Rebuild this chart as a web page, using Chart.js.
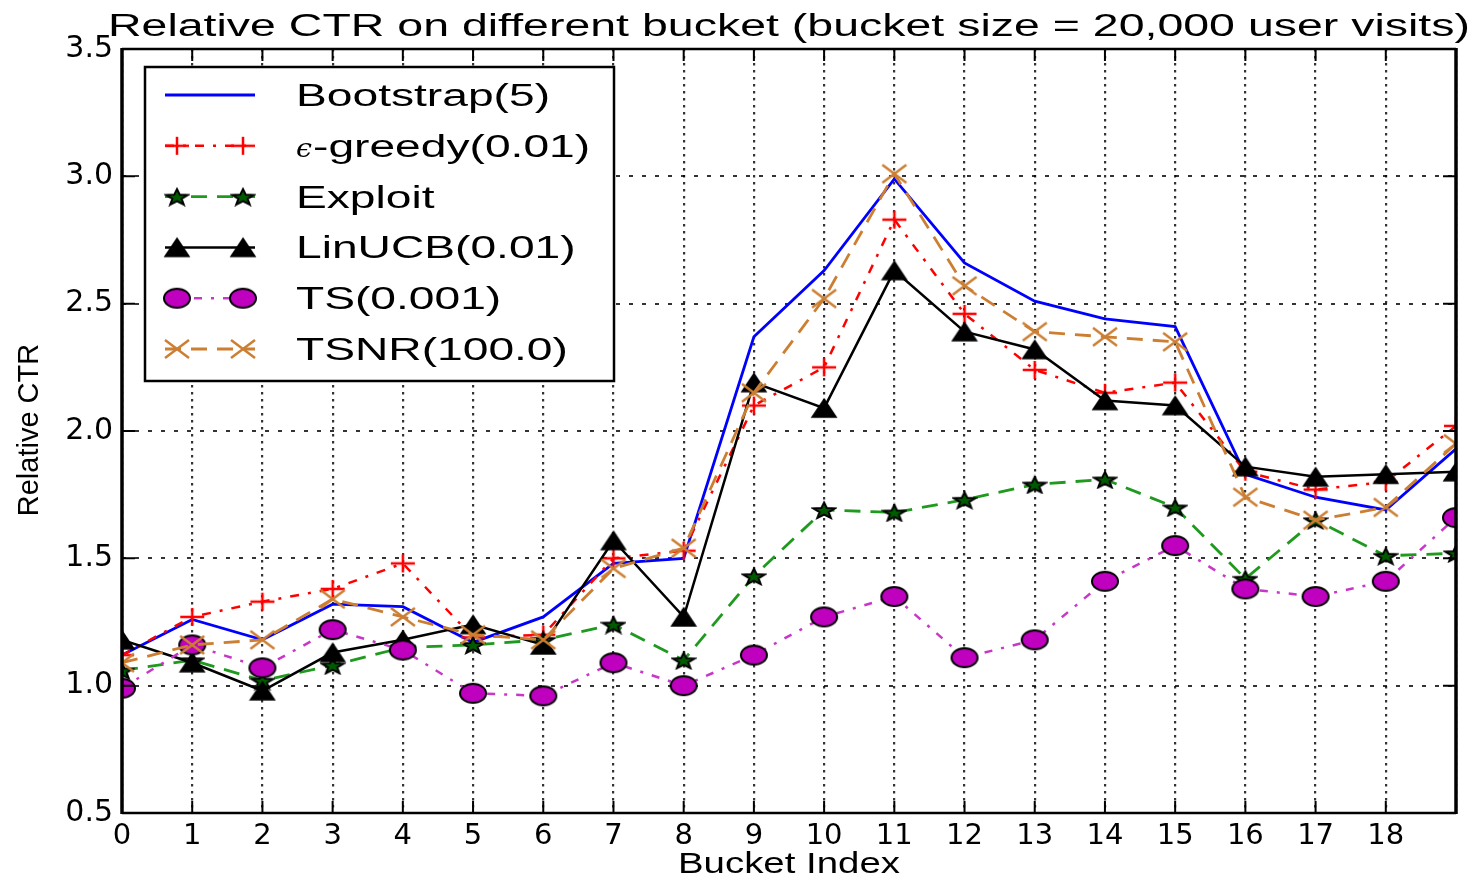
<!DOCTYPE html>
<html>
<head>
<meta charset="utf-8">
<script src="https://cdn.jsdelivr.net/npm/chart.js@4.4.0/dist/chart.umd.min.js"></script>
<style>
html,body{margin:0;padding:0;background:#fff;}
#wrap{width:1480px;height:878px;}
canvas{display:block;}
</style>
</head>
<body>
<div id="wrap"><canvas id="c" width="1480" height="878"></canvas></div>
<script>
// ---------------- data ----------------
const buckets = [0,1,2,3,4,5,6,7,8,9,10,11,12,13,14,15,16,17,18,19];
const xTickLabels = ['0','1','2','3','4','5','6','7','8','9','10','11','12','13','14','15','16','17','18'];
const yTickValues = [0.5,1.0,1.5,2.0,2.5,3.0,3.5];
const seriesNames = ['Bootstrap(5)','ϵ-greedy(0.01)','Exploit','LinUCB(0.01)','TS(0.001)','TSNR(100.0)'];

const bootstrap = [1.12,1.26,1.18,1.32,1.31,1.17,1.27,1.48,1.50,2.37,2.63,2.99,2.66,2.51,2.44,2.41,1.83,1.74,1.69,1.93];
const egreedy   = [1.12,1.27,1.33,1.38,1.48,1.19,1.20,1.50,1.53,2.10,2.25,2.83,2.46,2.24,2.15,2.19,1.84,1.77,1.80,2.02];
const exploit   = [1.06,1.10,1.02,1.08,1.15,1.16,1.18,1.24,1.10,1.43,1.69,1.68,1.73,1.79,1.81,1.70,1.42,1.65,1.51,1.52];
const linucb    = [1.18,1.09,0.98,1.13,1.18,1.24,1.16,1.57,1.27,2.19,2.09,2.63,2.39,2.32,2.12,2.10,1.86,1.82,1.83,1.84];
const ts        = [0.99,1.16,1.07,1.22,1.14,0.97,0.96,1.09,1.00,1.12,1.27,1.35,1.11,1.18,1.41,1.55,1.38,1.35,1.41,1.66];
const tsnr      = [1.09,1.16,1.18,1.34,1.27,1.20,1.18,1.46,1.54,2.15,2.52,3.01,2.57,2.39,2.37,2.35,1.74,1.65,1.70,1.95];

const titleText = 'Relative CTR on different bucket (bucket size = 20,000 user visits)';
const xTitleText = 'Bucket Index';
const yTitleText = 'Relative CTR';

// ---------------- markers ----------------
function makeMarker(w, h, fn) {
  const c = document.createElement('canvas');
  c.width = w; c.height = h;
  fn(c.getContext('2d'), w, h);
  return c;
}
const mPlus = makeMarker(26, 20, (g, w, h) => {
  g.strokeStyle = '#ff0000'; g.lineWidth = 2.5;
  g.beginPath(); g.moveTo(1, h/2); g.lineTo(w-1, h/2); g.moveTo(w/2, 1); g.lineTo(w/2, h-1); g.stroke();
});
const mStar = makeMarker(26, 20, (g, w, h) => {
  const cx = w/2, cy = h/2 + 1, R = 10, r = 4.2;
  g.beginPath();
  for (let k = 0; k < 10; k++) {
    const a = -Math.PI/2 + k*Math.PI/5;
    const rr = (k % 2 === 0) ? R : r;
    const px = cx + Math.cos(a)*rr*1.15, py = cy + Math.sin(a)*rr*0.85;
    if (k === 0) g.moveTo(px, py); else g.lineTo(px, py);
  }
  g.closePath();
  g.fillStyle = '#005a00'; g.fill();
  g.strokeStyle = '#000'; g.lineWidth = 2; g.stroke();
});
const mTri = makeMarker(28, 22, (g, w, h) => {
  g.beginPath(); g.moveTo(w/2, 2); g.lineTo(w-2, h-2); g.lineTo(2, h-2); g.closePath();
  g.fillStyle = '#000'; g.fill();
  g.strokeStyle = '#000'; g.lineWidth = 1.5; g.stroke();
});
const mCircle = makeMarker(30, 23, (g, w, h) => {
  g.beginPath(); g.ellipse(w/2, h/2, w/2-2, h/2-2, 0, 0, Math.PI*2);
  g.fillStyle = '#bf00bf'; g.fill();
  g.strokeStyle = '#000'; g.lineWidth = 2; g.stroke();
});
const mX = makeMarker(28, 22, (g, w, h) => {
  g.strokeStyle = '#cc7f33'; g.lineWidth = 2.5;
  g.beginPath(); g.moveTo(2, 2); g.lineTo(w-2, h-2); g.moveTo(w-2, 2); g.lineTo(2, h-2); g.stroke();
});

function pts(arr) { return buckets.map((b, i) => ({x: b, y: arr[i]})); }

const datasets = [
  {label: seriesNames[0], data: pts(bootstrap), borderColor: '#0000ff', borderWidth: 2.8, borderDash: [], pointStyle: false, pointRadius: 0, order: 6},
  {label: seriesNames[1], data: pts(egreedy), borderColor: '#ff0000', borderWidth: 2.5, borderDash: [9,9,3,9], pointStyle: mPlus, pointRadius: 10, order: 5},
  {label: seriesNames[2], data: pts(exploit), borderColor: '#1f9a1f', borderWidth: 2.8, borderDash: [16,10], pointStyle: mStar, pointRadius: 10, order: 4},
  {label: seriesNames[3], data: pts(linucb), borderColor: '#000000', borderWidth: 2.5, borderDash: [], pointStyle: mTri, pointRadius: 10, order: 3},
  {label: seriesNames[4], data: pts(ts), borderColor: '#c838c8', borderWidth: 2.5, borderDash: [8,9,3,9], pointStyle: mCircle, pointRadius: 10, order: 2},
  {label: seriesNames[5], data: pts(tsnr), borderColor: '#cc7f33', borderWidth: 2.8, borderDash: [16,10], pointStyle: mX, pointRadius: 10, order: 1}
].map(d => Object.assign(d, {fill: false, tension: 0, clip: 0, backgroundColor: d.borderColor, pointHoverRadius: d.pointRadius}));

// ---------------- helpers ----------------
function textAt(ctx, text, x, y, font, sx, align) {
  ctx.save();
  ctx.font = font; ctx.textBaseline = 'alphabetic'; ctx.textAlign = 'left';
  const w = ctx.measureText(text).width * sx;
  const x0 = align === 'center' ? x - w/2 : x;
  ctx.translate(x0, y); ctx.scale(sx, 1);
  ctx.fillStyle = '#000';
  ctx.fillText(text, 0, 0);
  ctx.restore();
  return w;
}
function fitScale(ctx, text, font, target) {
  ctx.save(); ctx.font = font; const w = ctx.measureText(text).width; ctx.restore();
  return target / w;
}

const decorPlugin = {
  id: 'decor',
  afterDatasetsDraw(chart) {
    const ctx = chart.ctx, a = chart.chartArea;
    const xs = chart.scales.x, ys = chart.scales.y;
    ctx.save();
    ctx.setLineDash([]);
    ctx.strokeStyle = '#000';
    // inward ticks
    ctx.lineWidth = 2;
    ctx.beginPath();
    xs.ticks.forEach(t => {
      const px = xs.getPixelForValue(t.value);
      ctx.moveTo(px, a.bottom); ctx.lineTo(px, a.bottom - 12);
      ctx.moveTo(px, a.top); ctx.lineTo(px, a.top + 12);
    });
    ys.ticks.forEach(t => {
      const py = ys.getPixelForValue(t.value);
      ctx.moveTo(a.left, py); ctx.lineTo(a.left + 13, py);
      ctx.moveTo(a.right, py); ctx.lineTo(a.right - 13, py);
    });
    ctx.stroke();
    // frame
    ctx.lineWidth = 3.5;
    ctx.beginPath();
    ctx.moveTo(a.left, a.top - 1); ctx.lineTo(a.left, a.bottom + 1);
    ctx.moveTo(a.right, a.top - 1); ctx.lineTo(a.right, a.bottom + 1);
    ctx.stroke();
    ctx.lineWidth = 2.5;
    ctx.beginPath();
    ctx.moveTo(a.left, a.top); ctx.lineTo(a.right, a.top);
    ctx.moveTo(a.left, a.bottom); ctx.lineTo(a.right, a.bottom);
    ctx.stroke();

    // legend
    const bx = 145, by = 67, bw = 469, bh = 314;
    ctx.fillStyle = '#fff';
    ctx.fillRect(bx, by, bw, bh);
    ctx.lineWidth = 2.5; ctx.strokeStyle = '#000';
    ctx.strokeRect(bx, by, bw, bh);
    const lfont = '31px "Liberation Sans", Arial, sans-serif';
    const lsx = fitScale(ctx, seriesNames[0], lfont, 254);
    chart.data.datasets.forEach((ds, i) => {
      const cy = 95 + i * 50.8;
      ctx.save();
      ctx.strokeStyle = ds.borderColor; ctx.lineWidth = ds.borderWidth;
      ctx.setLineDash(ds.borderDash || []);
      ctx.beginPath(); ctx.moveTo(165, cy); ctx.lineTo(255, cy); ctx.stroke();
      ctx.restore();
      if (ds.pointStyle) {
        const img = ds.pointStyle;
        ctx.drawImage(img, 177 - img.width/2, cy - img.height/2);
        ctx.drawImage(img, 243 - img.width/2, cy - img.height/2);
      }
      const label = ds.label;
      const base = cy + 11;
      if (label.charAt(0) === 'ϵ') {
        const ew = textAt(ctx, 'ϵ', 296, base, 'italic 26px "DejaVu Serif", serif', 1.1, 'left');
        textAt(ctx, label.slice(1), 296 + ew + 1, base, lfont, lsx, 'left');
      } else {
        textAt(ctx, label, 296, base, lfont, lsx, 'left');
      }
    });

    // title
    const tfont = '31px "Liberation Sans", Arial, sans-serif';
    textAt(ctx, titleText, 789, 36, tfont, fitScale(ctx, titleText, tfont, 1362), 'center');
    // x title
    const xfont = '30px "Liberation Sans", Arial, sans-serif';
    textAt(ctx, xTitleText, 789, 873, xfont, fitScale(ctx, xTitleText, xfont, 222), 'center');
    // y title
    ctx.save();
    ctx.translate(38, 430);
    ctx.rotate(-Math.PI/2);
    ctx.font = '29px "Liberation Sans", Arial, sans-serif';
    ctx.textAlign = 'center'; ctx.textBaseline = 'alphabetic'; ctx.fillStyle = '#000';
    ctx.fillText(yTitleText, 0, 0);
    ctx.restore();
    ctx.restore();
  }
};

new Chart(document.getElementById('c'), {
  type: 'line',
  data: {datasets: datasets},
  options: {
    responsive: false,
    animation: false,
    devicePixelRatio: 1,
    events: [],
    layout: {padding: {left: 0, top: 49, right: 24, bottom: 0}},
    plugins: {legend: {display: false}, title: {display: false}, tooltip: {enabled: false}},
    scales: {
      x: {
        type: 'linear', min: 0, max: 19,
        afterFit(s) { s.height = 65; },
        ticks: {
          stepSize: 1, autoSkip: false, maxRotation: 0, padding: 6, color: '#000',
          font: {family: '"DejaVu Sans", sans-serif', size: 29},
          callback: (v) => (xTickLabels[v] !== undefined ? xTickLabels[v] : '')
        },
        grid: {color: 'rgba(0,0,0,0.8)', lineWidth: 2.2, drawTicks: false},
        border: {display: false, dash: [2.5, 4.5]}
      },
      y: {
        type: 'linear', min: 0.5, max: 3.5,
        afterFit(s) { s.width = 122; },
        afterBuildTicks(s) { s.ticks = yTickValues.map(v => ({value: v})); },
        ticks: {
          stepSize: 0.5, padding: 9, color: '#000',
          font: {family: '"DejaVu Sans", sans-serif', size: 30},
          callback: (v) => Number(v).toFixed(1)
        },
        grid: {color: 'rgba(0,0,0,0.8)', lineWidth: 2, drawTicks: false},
        border: {display: false, dash: [4, 9]}
      }
    }
  },
  plugins: [decorPlugin]
});
</script>
</body>
</html>
